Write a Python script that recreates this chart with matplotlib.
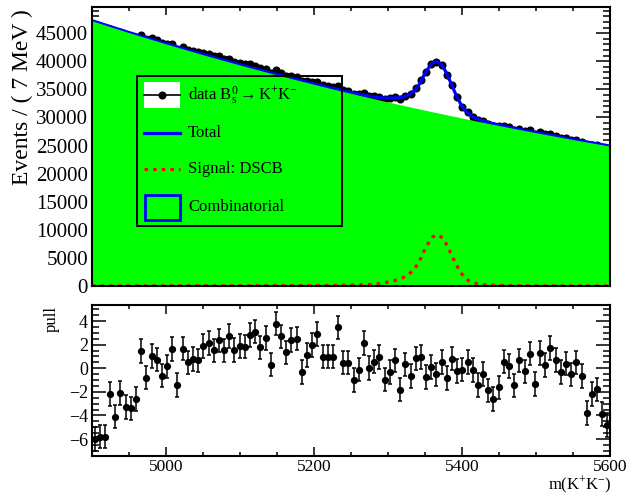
import numpy as np
import matplotlib
matplotlib.use("Agg")
import matplotlib.pyplot as plt
from matplotlib.ticker import MultipleLocator
from matplotlib.patches import Rectangle
from matplotlib.lines import Line2D

plt.rcParams['font.family'] = ['Liberation Serif', 'DejaVu Serif']
plt.rcParams['mathtext.fontset'] = 'custom'
plt.rcParams['mathtext.rm'] = 'Liberation Serif'
plt.rcParams['mathtext.it'] = 'Liberation Serif:italic'

# binning: 100 bins of 7 MeV from 4900 to 5600
m_lo, m_hi, bin_w = 4900, 5600, 7

# data counts per bin
counts = [45760, 45510, 45210, 45690, 44990, 45130, 44590, 44280, 44170, 44740,
          43980, 44090, 43740, 43180, 43070, 43100, 42200, 42560, 42050, 41840,
          41560, 41540, 41320, 40940, 40850, 40420, 40420, 39920, 39730, 39470,
          39420, 39230, 38720, 38620, 37940, 38380, 37930, 37430, 37400, 37180,
          36410, 36460, 36380, 36330, 35750, 35520, 35340, 35590, 34830, 34630,
          34150, 34120, 34370, 33800, 33730, 33700, 33300, 33390, 33570, 33220,
          33860, 34100, 35220, 36600, 38030, 39460, 39780, 39370, 37600, 35800,
          33560, 31870, 30880, 30120, 29460, 29290, 28790, 28430, 28400, 28560,
          28300, 27840, 28000, 27670, 27730, 27120, 27380, 27030, 27090, 26750,
          26420, 26360, 26040, 26040, 25690, 25020, 25120, 25010, 24530, 24220]

# pulls per bin
pull = [-6.0, -5.8, -5.8, -2.2, -4.1, -2.1, -3.3, -3.4, -2.6, 1.45,
        -0.8, 1.03, 0.73, -0.63, 0.15, 1.64, -1.4, 1.67, 0.5, 0.78,
        0.67, 1.88, 2.12, 1.52, 2.36, 1.52, 2.75, 1.55, 1.87, 1.84,
        2.82, 3.1, 1.77, 2.55, 0.3, 3.79, 2.7, 1.34, 2.4, 2.52,
        -0.32, 1.13, 1.97, 2.89, 0.99, 0.99, 0.99, 3.46, 0.47, 0.47,
        -1.0, -0.12, 2.15, 0.03, 0.57, 0.96, -0.97, -0.31, 0.67, -1.81,
        0.32, -0.66, 0.84, 0.96, -0.74, 0.11, -0.53, 0.52, -0.81, 0.82,
        -0.22, -0.12, 0.55, -0.17, -1.42, -0.49, -1.88, -2.62, -1.62, 0.56,
        0.17, -1.45, 0.67, -0.27, 1.24, -1.35, 1.3, 0.28, 1.73, 0.7,
        -0.33, 0.39, -0.53, 0.5, -0.67, -3.8, -2.17, -1.8, -3.87, -4.8]

# fit components
m_curve = [4900, 4950, 5000, 5050, 5100, 5150, 5200, 5220, 5240, 5260,
           5280, 5290, 5300, 5310, 5320, 5330, 5335, 5340, 5345, 5350,
           5355, 5360, 5365, 5370, 5375, 5380, 5385, 5390, 5395, 5400,
           5405, 5410, 5420, 5430, 5440, 5460, 5480, 5500, 5550, 5600]
bkg_curve = [47200, 45090, 43080, 41150, 39320, 37560, 35890, 35230, 34600, 33970,
             33360, 33050, 32750, 32460, 32160, 31870, 31720, 31580, 31430, 31290,
             31150, 31000, 30860, 30720, 30580, 30440, 30310, 30170, 30030, 29890,
             29760, 29620, 29350, 29080, 28820, 28300, 27790, 27280, 26060, 24900]
sig_curve = [10, 15, 20, 30, 40, 55, 75, 95, 130, 185,
             300, 450, 700, 1000, 1450, 2300, 3000, 3850, 5100, 6600,
             7700, 8700, 9050, 8950, 8300, 7200, 5800, 4400, 3150, 2100,
             1350, 850, 420, 220, 140, 70, 40, 25, 10, 5]

centers = np.arange(m_lo + bin_w / 2, m_hi, bin_w)
counts = np.array(counts)
total_curve = np.array(bkg_curve) + np.array(sig_curve)

W, H = 632, 496
fig = plt.figure(figsize=(W / 100, H / 100), dpi=100)

def px_rect(x0, y0, x1, y1):
    return [x0 / W, 1 - y1 / H, (x1 - x0) / W, (y1 - y0) / H]

ax = fig.add_axes(px_rect(92, 7, 610, 286))
axp = fig.add_axes(px_rect(92, 305, 610, 456))

blue = (0, 0, 1)
green = (0, 1, 0)
red = (1, 0, 0)
dash = (0, (1.1, 1.6))

# top panel
ax.errorbar(centers, counts, yerr=np.sqrt(counts), fmt='o', color='black',
            ms=4.8, lw=1, capsize=0, zorder=2)
ax.plot(m_curve, total_curve, color=blue, lw=2.3, zorder=3)
ax.fill_between(m_curve, 0, bkg_curve, color=green, lw=0, zorder=4)
ax.plot(m_curve, sig_curve, color=red, lw=2.3, ls=dash, zorder=5)

ax.set_xlim(m_lo, m_hi)
ax.set_ylim(0, 49650)
ax.xaxis.set_major_locator(MultipleLocator(200))
ax.xaxis.set_minor_locator(MultipleLocator(50))
ax.yaxis.set_major_locator(MultipleLocator(5000))
ax.yaxis.set_minor_locator(MultipleLocator(1000))
ax.tick_params(axis='x', which='both', direction='in', top=True, bottom=True,
               labelbottom=False, width=1.1)
ax.tick_params(axis='x', which='major', length=5.5)
ax.tick_params(axis='x', which='minor', length=2.6)
ax.tick_params(axis='y', which='both', direction='in', left=True, right=True,
               width=1.1, labelsize=15, pad=3)
ax.tick_params(axis='y', which='major', length=10)
ax.tick_params(axis='y', which='minor', length=5)

# legend drawn by hand, in axes fraction
def fx(px):
    return (px - 92) / 518

def fy(py):
    return (286 - py) / 279

T = ax.transAxes
ax.add_patch(Rectangle((fx(137), fy(226)), fx(342) - fx(137), fy(76) - fy(226),
                       transform=T, fill=False, ec='black', lw=1.4, zorder=10))
ax.add_patch(Rectangle((fx(144), fy(108)), fx(180) - fx(144), fy(82) - fy(108),
                       transform=T, fc='white', ec='none', zorder=10))
ax.add_line(Line2D([fx(144), fx(180)], [fy(95), fy(95)], transform=T,
                   color='black', lw=1.2, zorder=11))
ax.add_line(Line2D([fx(162)], [fy(95)], transform=T, marker='o', ms=4.8,
                   color='black', zorder=11))
ax.add_line(Line2D([fx(144), fx(180)], [fy(132.7), fy(132.7)], transform=T,
                   color=blue, lw=2.3, zorder=11))
ax.add_line(Line2D([fx(144), fx(180)], [fy(169.3), fy(169.3)], transform=T,
                   color=red, lw=2.3, ls=dash, zorder=11))
ax.add_patch(Rectangle((fx(145), fy(219.5)), fx(179.5) - fx(145), fy(194.5) - fy(219.5),
                       transform=T, fc=green, ec=blue, lw=2.0, zorder=11))
leg_txt = [r'data $\mathrm{B_s^0 \rightarrow K^{+}K^{-}}$', 'Total',
           'Signal: DSCB', 'Combinatorial']
leg_y = [95, 132.7, 169.3, 207.3]
for s, yy in zip(leg_txt, leg_y):
    ax.text(fx(188), fy(yy), s, transform=T, fontsize=12, va='center',
            ha='left', zorder=12)

# pull panel
axp.errorbar(centers, pull, yerr=np.ones(len(pull)), fmt='o', color='black',
             ms=4.2, lw=1.1, capsize=1.6, capthick=1.1)
axp.set_xlim(m_lo, m_hi)
axp.set_ylim(-7.44, 5.36)
axp.xaxis.set_major_locator(MultipleLocator(200))
axp.xaxis.set_minor_locator(MultipleLocator(50))
axp.yaxis.set_major_locator(MultipleLocator(2))
axp.yaxis.set_minor_locator(MultipleLocator(0.5))
axp.tick_params(axis='x', which='both', direction='in', top=True, bottom=True,
                width=1.1, labelsize=12.5, pad=2.5)
axp.tick_params(axis='x', which='major', length=6.5)
axp.tick_params(axis='x', which='minor', length=3)
axp.tick_params(axis='y', which='both', direction='in', left=True, right=True,
                width=1.1, labelsize=13, pad=3)
axp.tick_params(axis='y', which='major', length=10)
axp.tick_params(axis='y', which='minor', length=5)

for a in (ax, axp):
    for sp in a.spines.values():
        sp.set_linewidth(1.5)
        sp.set_zorder(20)

fig.text(22 / W, 1 - 97 / H, 'Events / ( 7 MeV )', rotation=90, fontsize=17,
         ha='center', va='center')
fig.text(52 / W, 1 - 319 / H, 'pull', rotation=90, fontsize=12,
         ha='center', va='center')
fig.text(612 / W, 1 - 485.5 / H, 'm(K$^{+}$K$^{-}$)', fontsize=12,
         ha='right', va='center')

fig.savefig('out.png', dpi=100)
